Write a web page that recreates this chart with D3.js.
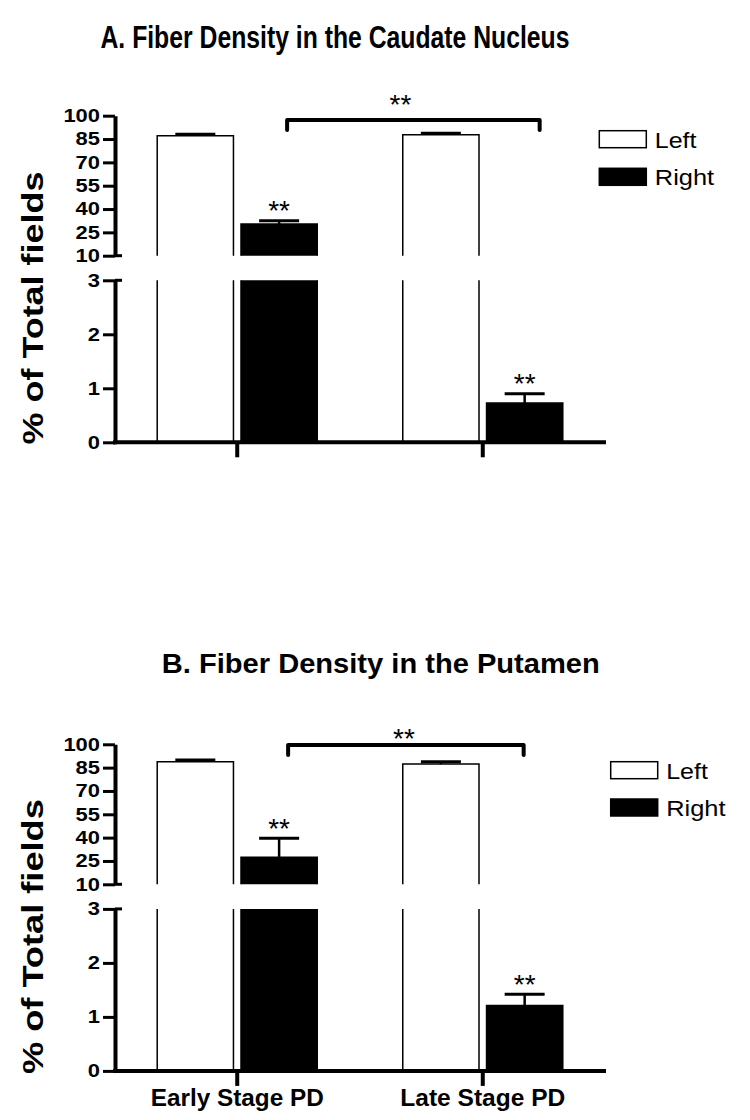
<!DOCTYPE html>
<html>
<head>
<meta charset="utf-8">
<script src="https://cdn.jsdelivr.net/npm/d3@7"></script>
<style>
  body { margin: 0; background: #fff; }
  text { font-family: "Liberation Sans", Arial, sans-serif; fill: #000; }
</style>
</head>
<body>
<script>
// ---------- data ----------
const categories = ["Early Stage PD", "Late Stage PD"];
const series = ["Left", "Right"];
const upperTicks = [10, 25, 40, 55, 70, 85, 100];
const lowerTicks = [0, 1, 2, 3];

const caudateLeft = [87.1, 87.8];
const caudateRight = [30.4, 0.73];
const caudateLeftErr = [0.9, 0.9];
const caudateRightErr = [2.1, 0.17];

const putamenLeft = [88.8, 87.3];
const putamenRight = [27.4, 1.21];
const putamenLeftErr = [1.1, 1.5];
const putamenRightErr = [12.2, 0.21];

const caudateSig = ["**", "**"];   // stars over Right bars
const putamenSig = ["**", "**"];
const caudateBracket = 97.2;       // level (upper-axis units) of the between-group bracket
const putamenBracket = 99.5;

// ---------- layout ----------
const W = 750, H = 1120;
const svg = d3.select("body").append("svg").attr("width", W).attr("height", H);

const panels = [
  { title: "A. Fiber Density in the Caudate Nucleus", titleX: 335, titleY: 48.3, titleSize: 32, titleLen: 469,
    top: 115.7, left: caudateLeft, right: caudateRight, leftErr: caudateLeftErr, rightErr: caudateRightErr,
    sig: caudateSig, bracket: caudateBracket, bracketOff: [8, 15], bracketStarDx: -13, bracketStarUp: 22,
    legendX: 599.3, legendDy: [15, 52.6], ylabLen: 273, showCats: false },
  { title: "B. Fiber Density in the Putamen", titleX: 380.8, titleY: 673.3, titleSize: 28, titleLen: 438,
    top: 744.3, left: putamenLeft, right: putamenRight, leftErr: putamenLeftErr, rightErr: putamenRightErr,
    sig: putamenSig, bracket: putamenBracket, bracketOff: [9, -1], bracketStarDx: -2, bracketStarUp: 13.3,
    legendX: 610.7, legendDy: [17.4, 54.7], ylabLen: 275, showCats: true }
];

const axisX = 115;
const x0 = d3.scaleBand().domain(categories).range([114, 606]).paddingInner(0.3483).paddingOuter(0.176);
const x1 = d3.scaleBand().domain(series).range([0, x0.bandwidth()]).paddingInner(0.09);

panels.forEach(p => {
  const g = svg.append("g");
  const yUp = d3.scaleLinear().domain([10, 100]).range([p.top + 140, p.top]);
  const yLo = d3.scaleLinear().domain([0, 3]).range([p.top + 326.6, p.top + 164.6]);
  const yOf = v => v > 10 ? yUp(v) : yLo(v);
  const y0 = yLo(0);

  // title
  g.append("text").attr("x", p.titleX).attr("y", p.titleY)
    .attr("text-anchor", "middle").attr("font-weight", "bold")
    .attr("font-size", p.titleSize)
    .attr("textLength", p.titleLen).attr("lengthAdjust", "spacingAndGlyphs")
    .text(p.title);

  // y label
  const ymid = (p.top + y0) / 2 + 29;
  g.append("text").attr("transform", `translate(43,${ymid}) rotate(-90)`)
    .attr("text-anchor", "middle").attr("font-weight", "bold").attr("font-size", 30)
    .attr("textLength", p.ylabLen).attr("lengthAdjust", "spacingAndGlyphs")
    .text("% of Total fields");

  // bars
  const rows = [];
  categories.forEach((c, i) => {
    rows.push({ c, s: "Left", v: p.left[i], e: p.leftErr[i], sig: null });
    rows.push({ c, s: "Right", v: p.right[i], e: p.rightErr[i], sig: p.sig[i] });
  });
  const bw = x1.bandwidth();
  rows.forEach(r => {
    const xl = x0(r.c) + x1(r.s), xr = xl + bw;
    const fill = r.s === "Left" ? "#fff" : "#000";
    // lower segment
    const lt = yLo(Math.min(r.v, 3));
    let dLo = `M${xl},${lt}V${y0}H${xr}V${lt}`;
    if (r.v <= 3) dLo += "Z";
    g.append("path").attr("d", dLo).attr("fill", fill).attr("stroke", "#000").attr("stroke-width", 1.5);
    if (r.v > 10) {
      const ub = yUp(10), ut = yUp(r.v);
      g.append("path").attr("d", `M${xl},${ub}V${ut}H${xr}V${ub}`)
        .attr("fill", fill).attr("stroke", "#000").attr("stroke-width", 1.5);
    }
    // error bar
    const cx = xl + bw / 2;
    const ye = yOf(r.v + r.e), yv = yOf(r.v);
    g.append("line").attr("x1", cx).attr("x2", cx).attr("y1", yv).attr("y2", ye)
      .attr("stroke", "#000").attr("stroke-width", 2.5);
    g.append("line").attr("x1", cx - 20).attr("x2", cx + 20).attr("y1", ye).attr("y2", ye)
      .attr("stroke", "#000").attr("stroke-width", 3);
    if (r.sig) {
      g.append("text").attr("x", cx).attr("y", ye - 16.5 + 16)
        .attr("text-anchor", "middle").attr("font-size", 28).text(r.sig);
    }
  });

  // axes
  const styleAxis = sel => {
    sel.select(".domain").attr("stroke-width", 4);
    sel.selectAll(".tick line").attr("stroke-width", 3);
    sel.selectAll(".tick text")
      .attr("font-family", "'Liberation Sans', Arial, sans-serif")
      .attr("font-weight", "bold").attr("font-size", 18).attr("fill", "#000")
      .attr("textLength", d => String(d).length * 12.2).attr("lengthAdjust", "spacingAndGlyphs");
  };
  const fmt = d3.format("d");
  g.append("g").attr("transform", `translate(${axisX},0)`)
    .call(d3.axisLeft(yUp).tickValues(upperTicks).tickFormat(fmt).tickSize(12).tickPadding(3).tickSizeOuter(0))
    .call(styleAxis);
  g.append("g").attr("transform", `translate(${axisX},0)`)
    .call(d3.axisLeft(yLo).tickValues(lowerTicks).tickFormat(fmt).tickSize(12).tickPadding(3).tickSizeOuter(0))
    .call(styleAxis);
  // break tick extensions
  [yUp(10), yLo(3)].forEach(yy => {
    g.append("line").attr("x1", axisX).attr("x2", axisX + 7).attr("y1", yy).attr("y2", yy)
      .attr("stroke", "#000").attr("stroke-width", 3);
  });
  // lower axis extension to meet x axis
  g.append("line").attr("x1", axisX).attr("x2", axisX).attr("y1", yLo(0)).attr("y2", yLo(0) + 2)
    .attr("stroke", "#000").attr("stroke-width", 4);

  // x axis
  g.append("line").attr("x1", axisX - 2).attr("x2", 606).attr("y1", y0).attr("y2", y0)
    .attr("stroke", "#000").attr("stroke-width", 4);
  categories.forEach(c => {
    const cx = x0(c) + x0.bandwidth() / 2;
    g.append("line").attr("x1", cx).attr("x2", cx).attr("y1", y0).attr("y2", y0 + 15)
      .attr("stroke", "#000").attr("stroke-width", 4);
    if (p.showCats) {
      g.append("text").attr("x", cx).attr("y", y0 + 35.5)
        .attr("text-anchor", "middle").attr("font-weight", "bold").attr("font-size", 23)
        .attr("textLength", c.startsWith("Early") ? 173 : 165).attr("lengthAdjust", "spacingAndGlyphs")
        .text(c);
    }
  });

  // bracket between groups
  const bxA = x0(categories[0]) + x1("Right") + bw / 2 + p.bracketOff[0];
  const bxB = x0(categories[1]) + x1("Right") + bw / 2 + p.bracketOff[1];
  const by = yUp(p.bracket);
  g.append("path").attr("d", `M${bxA},${by + 10}V${by}H${bxB}V${by + 10}`)
    .attr("fill", "none").attr("stroke", "#000").attr("stroke-width", 4)
    .attr("stroke-linecap", "round").attr("stroke-linejoin", "round");
  g.append("text").attr("x", (bxA + bxB) / 2 + p.bracketStarDx).attr("y", by - p.bracketStarUp + 16)
    .attr("text-anchor", "middle").attr("font-size", 28).text("**");

  // legend
  series.forEach((s, i) => {
    const ly = p.top + p.legendDy[i];
    g.append("rect").attr("x", p.legendX).attr("y", ly).attr("width", 47).attr("height", 17)
      .attr("fill", s === "Left" ? "#fff" : "#000").attr("stroke", "#000").attr("stroke-width", 1.5);
    g.append("text").attr("x", p.legendX + 55.5).attr("y", ly + 17)
      .attr("font-size", 22)
      .attr("textLength", s === "Left" ? 41.7 : 59.3).attr("lengthAdjust", "spacingAndGlyphs")
      .text(s);
  });
});
</script>
</body>
</html>
